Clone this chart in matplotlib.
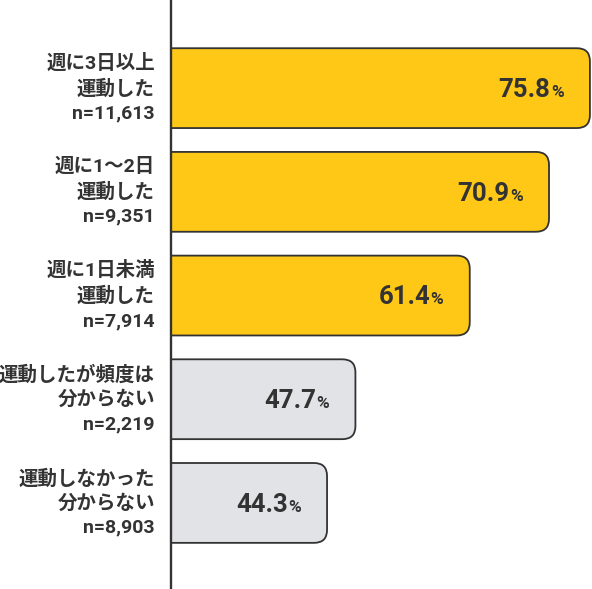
import matplotlib.pyplot as plt
from matplotlib.patches import FancyBboxPatch

plt.rcParams['font.family'] = ['Roboto', 'Noto Sans CJK JP']
plt.rcParams['font.weight'] = 'bold'

# data
categories = ['週に3日以上\n運動した', '週に1〜2日\n運動した', '週に1日未満\n運動した',
              '運動したが頻度は\n分からない', '運動しなかった\n分からない']
sample_sizes = ['n=11,613', 'n=9,351', 'n=7,914', 'n=2,219', 'n=8,903']
values = [75.8, 70.9, 61.4, 47.7, 44.3]
known_freq = [True, True, True, False, False]

YELLOW = '#FFC816'
GRAY = '#E1E3E6'
DARK = '#333333'

fig = plt.figure(figsize=(5.92, 5.89), dpi=100)
ax = fig.add_axes([171 / 592, 0, 421 / 592, 1])
ax.set_xlim(25.6, 76.05)
ax.set_ylim(4.83, -0.85)

# pixel scales so the rounded corners stay circular
px_x = ax.bbox.width / (76.05 - 25.6)
px_y = ax.bbox.height / (4.83 + 0.85)
aspect = px_x / px_y
radius = 13 / px_x
bar_h = 0.77

for i, v in enumerate(values):
    col = YELLOW if known_freq[i] else GRAY
    bar = FancyBboxPatch((0, i - bar_h / 2), v, bar_h,
                         boxstyle=f'round,pad=0,rounding_size={radius}',
                         mutation_aspect=aspect, fc=col, ec=DARK, lw=1.3)
    ax.add_patch(bar)

    # value label: big number + small %
    ax.annotate(f'{v:.1f}', (v, i), xytext=(-39.5 * 0.72, -8.8 * 0.72),
                textcoords='offset points', ha='right', va='baseline',
                fontsize=18.5, color=DARK)
    ax.annotate('%', (v, i), xytext=(-39 * 0.72, -8.8 * 0.72),
                textcoords='offset points', ha='left', va='baseline',
                fontsize=12.5, color=DARK)

    # category label left of axis
    ax.annotate(categories[i] + '\n' + sample_sizes[i], (25.6, i),
                xytext=(-16 * 0.72, 0), textcoords='offset points',
                ha='right', va='center', multialignment='right',
                fontsize=14, linespacing=1.42, color=DARK,
                annotation_clip=False)

for s in ['top', 'right', 'bottom']:
    ax.spines[s].set_visible(False)
ax.spines['left'].set_color(DARK)
ax.spines['left'].set_linewidth(1.7)
ax.set_xticks([])
ax.set_yticks([])

fig.savefig('out.png', dpi=100)
